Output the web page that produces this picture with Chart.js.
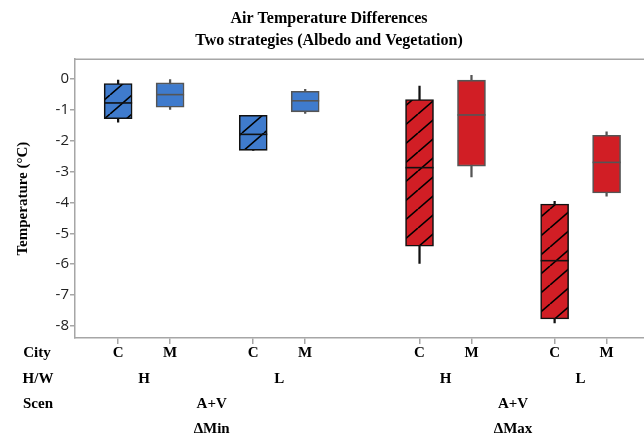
<!DOCTYPE html>
<html>
<head>
<meta charset="utf-8">
<script src="https://cdn.jsdelivr.net/npm/chart.js@4/dist/chart.umd.min.js"></script>
<style>
html,body{margin:0;padding:0;background:#fff;}
#wrap{width:644px;height:439px;}
</style>
</head>
<body>
<div id="wrap"><canvas id="c" width="644" height="439"></canvas></div>
<script>
// ---- data ----
const cities = ['C','M','C','M','C','M','C','M'];
const hwGroups = ['H','L','H','L'];
const scenGroups = ['A+V','A+V'];
const metricGroups = ['ΔMin','ΔMax'];
const whiskerHigh = [0.00, -0.01, -1.17, -0.33, -0.22, 0.13, -3.96, -1.71];
const q3 =          [-0.14, -0.12, -1.17, -0.39, -0.66, -0.03, -4.05, -1.82];
const median =      [-0.77, -0.50, -1.79, -0.70, -2.87, -1.16, -5.89, -2.70];
const q1 =          [-1.28, -0.91, -2.31, -1.06, -5.42, -2.82, -7.78, -3.69];
const whiskerLow =  [-1.39, -0.98, -2.31, -1.11, -5.98, -3.17, -7.91, -3.80];
const yTicks = [0,-1,-2,-3,-4,-5,-6,-7,-8];

// ---- layout of the grouped categorical axis ----
const GAP_CITY = 1, GAP_HW = 1.6, GAP_METRIC = 2.2;
const pos = [];
cities.forEach((c,i)=>{
  if(i===0){pos.push(1);return;}
  let g = GAP_CITY;
  if(i%4===0) g = GAP_METRIC; else if(i%2===0) g = GAP_HW;
  pos.push(pos[i-1]+g);
});

const BLUE = '#3f7bcd', RED = '#d11e25';
function hatch(color){
  const w=22,h=19;
  const cv=document.createElement('canvas');cv.width=w;cv.height=h;
  const g=cv.getContext('2d');
  g.fillStyle=color;g.fillRect(0,0,w,h);
  g.strokeStyle='#000';g.lineWidth=1.6;
  for(const dx of [-w,0,w]){
    g.beginPath();g.moveTo(dx,h);g.lineTo(dx+w,0);g.stroke();
  }
  return g.createPattern(cv,'repeat');
}
const hatchBlue = hatch(BLUE), hatchRed = hatch(RED);
const isC = cities.map(c=>c==='C');
const fill = cities.map((c,i)=>{const base = i<4?BLUE:RED; return isC[i]?(i<4?hatchBlue:hatchRed):base;});
const edge = cities.map((c,i)=>isC[i]?'#111':'#555');

const labelsPlugin = {
  id:'rows',
  afterDraw(chart){
    const ctx=chart.ctx, xs=chart.scales.x, ca=chart.chartArea;
    ctx.save();
    // top frame line
    ctx.strokeStyle='#a6a6a6';ctx.lineWidth=1.5;
    ctx.beginPath();ctx.moveTo(ca.left,ca.top);ctx.lineTo(ca.right,ca.top);ctx.stroke();
    ctx.fillStyle='#000';ctx.textAlign='center';ctx.textBaseline='middle';
    ctx.font='bold 15px "Liberation Serif"';
    const rows=[353,379,404,429];
    ctx.fillText('City',37,rows[0]);
    ctx.fillText('H/W',38,rows[1]);
    ctx.fillText('Scen',38,rows[2]);
    cities.forEach((c,i)=>ctx.fillText(c,xs.getPixelForValue(pos[i]),rows[0]));
    hwGroups.forEach((h,k)=>{
      const x=(xs.getPixelForValue(pos[2*k])+xs.getPixelForValue(pos[2*k+1]))/2;
      ctx.fillText(h,x,rows[1]);
    });
    scenGroups.forEach((s,k)=>{
      const x=(xs.getPixelForValue(pos[4*k])+xs.getPixelForValue(pos[4*k+3]))/2;
      ctx.fillText(s,x,rows[2]);
      ctx.fillText(metricGroups[k],x,rows[3]);
    });
    ctx.restore();
  }
};

new Chart(document.getElementById('c'),{
  type:'bar',
  data:{datasets:[
    {type:'bar',label:'whisker',order:3,data:pos.map((x,i)=>({x,y:[whiskerLow[i],whiskerHigh[i]]})),
     backgroundColor:cities.map((c,i)=>isC[i]?'#111':'#555'),barThickness:1.6,grouped:false,borderWidth:0},
    {type:'bar',label:'box',order:2,data:pos.map((x,i)=>({x,y:[q1[i],q3[i]]})),
     backgroundColor:fill,borderColor:edge,borderWidth:1.6,borderSkipped:false,barThickness:28,grouped:false},
    {type:'line',label:'median',order:1,showLine:false,clip:false,data:pos.map((x,i)=>({x,y:median[i]})),
     pointStyle:'line',pointRadius:14,pointHoverRadius:14,pointBorderWidth:1.6,pointBorderColor:edge,borderColor:edge}
  ]},
  options:{
    responsive:false,animation:false,
    layout:{autoPadding:false,padding:{left:14,right:0,top:4,bottom:0}},
    plugins:{
      legend:{display:false},tooltip:{enabled:false},
      title:{display:true,text:['Air Temperature Differences','Two strategies (Albedo and Vegetation)'],
        color:'#000',font:{family:'"Liberation Serif"',size:16,weight:'bold',lineHeight:1.35},padding:{top:4,bottom:8}}
    },
    scales:{
      x:{type:'linear',min:0.17,max:11.12,offset:false,
        grid:{display:true,offset:false,drawOnChartArea:false,drawTicks:true,tickLength:6,color:'#a6a6a6',lineWidth:1.5},
        border:{color:'#a6a6a6',width:1.5},
        ticks:{display:false},
        afterBuildTicks(s){s.ticks=pos.map(v=>({value:v}));},
        afterFit(s){s.height=101;}
      },
      y:{min:-8.4,max:0.65,
        grid:{display:true,drawOnChartArea:false,drawTicks:true,tickLength:5,color:'#a6a6a6',lineWidth:1.5},
        border:{color:'#a6a6a6',width:1.5},
        ticks:{color:'#222',font:{family:'"Open Sans"',size:15},padding:1},
        afterBuildTicks(s){s.ticks=yTicks.map(v=>({value:v}));},
        title:{display:true,text:'Temperature (°C)',color:'#000',font:{family:'"Liberation Serif"',size:15,weight:'bold'},padding:{top:0,bottom:3}},
        afterFit(s){s.width=61;}
      }
    }
  },
  plugins:[labelsPlugin]
});
</script>
</body>
</html>
